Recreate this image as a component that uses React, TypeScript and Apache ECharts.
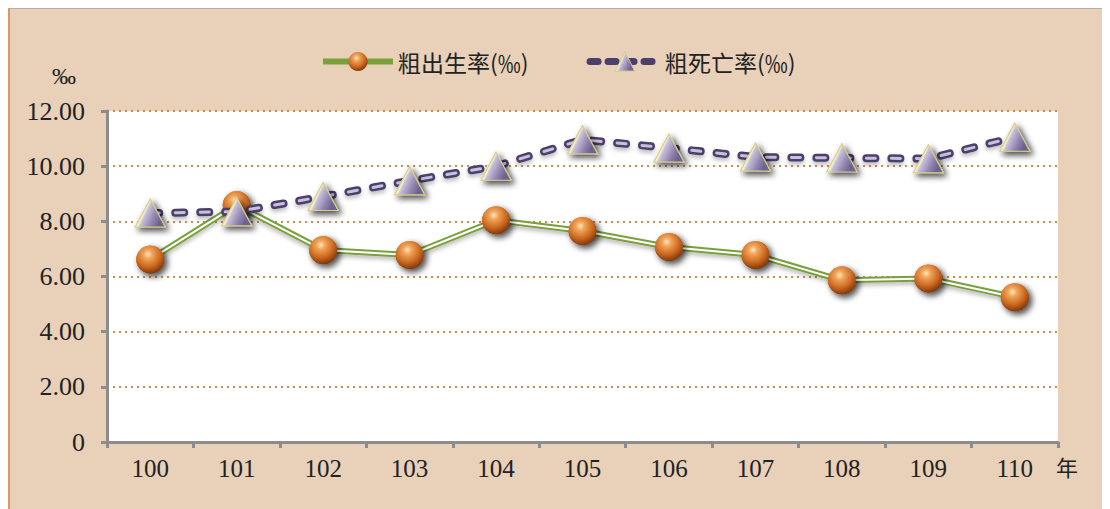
import React, { useEffect, useRef } from "react";
import * as echarts from "echarts";

const categories = ["100", "101", "102", "103", "104", "105", "106", "107", "108", "109", "110"];
const birthRate = [6.62, 8.59, 6.96, 6.78, 8.04, 7.65, 7.07, 6.78, 5.86, 5.93, 5.25];
const deathRate = [8.3, 8.35, 8.9, 9.47, 10.0, 10.96, 10.66, 10.33, 10.3, 10.27, 11.05];
const yTickLabels = ["0", "2.00", "4.00", "6.00", "8.00", "10.00", "12.00"];
const birthName = "粗出生率(‰)";
const deathName = "粗死亡率(‰)";

const BG = "#E8D0B9";
const CJK = "'Noto Sans CJK TC', 'Noto Sans CJK SC', sans-serif";
const SERIF = "'Liberation Serif', 'DejaVu Serif', serif";

const ballColor = {
  type: "radial",
  x: 0.42,
  y: 0.32,
  r: 0.7,
  colorStops: [
    { offset: 0, color: "#FFE6C0" },
    { offset: 0.22, color: "#F2A55A" },
    { offset: 0.65, color: "#C9671F" },
    { offset: 1, color: "#7E360A" },
  ],
};

const triColor = {
  type: "linear",
  x: 0,
  y: 0.2,
  x2: 0.9,
  y2: 0.6,
  colorStops: [
    { offset: 0, color: "#FFFDE8" },
    { offset: 0.4, color: "#F2EEC8" },
    { offset: 0.46, color: "#C8C0DC" },
    { offset: 0.75, color: "#9488B2" },
    { offset: 1, color: "#6E6290" },
  ],
};

export default function App() {
  const ref = useRef<HTMLDivElement>(null);
  useEffect(() => {
    if (!ref.current) return;
    const chart = echarts.init(ref.current, null, { renderer: "svg" });
    const shadow = {
      shadowColor: "rgba(0,0,0,0.45)",
      shadowBlur: 6,
      shadowOffsetX: 3,
      shadowOffsetY: 3,
    };
    const triStyle = { color: triColor, borderColor: "#D8CF8A", borderWidth: 1, ...shadow };
    chart.setOption({
      animation: false,
      backgroundColor: BG,
      legend: {
        data: [
          {
            name: birthName,
            itemStyle: { color: ballColor },
            lineStyle: { color: "#7AA03C", width: 6 },
          },
          {
            name: deathName,
            itemStyle: { color: triColor, borderColor: "#D8CF8A", borderWidth: 1 },
            lineStyle: { color: "#4B3F6B", width: 7, type: [8, 10], cap: "round" },
          },
        ],
        top: 36,
        left: 305,
        itemWidth: 70,
        itemHeight: 24,
        itemGap: 58,
        textStyle: { fontFamily: CJK, fontSize: 23, color: "#222" },
      },
      grid: { left: 97, right: 52, top: 102, bottom: 67 },
      xAxis: {
        type: "category",
        data: categories,
        boundaryGap: true,
        axisLine: { lineStyle: { color: "#8C8C8C", width: 3 } },
        axisTick: { show: true, length: 6, alignWithLabel: false, lineStyle: { color: "#8C8C8C", width: 3 } },
        axisLabel: { fontFamily: SERIF, fontSize: 25, color: "#222", margin: 14 },
        splitLine: { show: false },
      },
      yAxis: {
        type: "value",
        min: 0,
        max: 12,
        interval: 2,
        axisLine: { show: true, lineStyle: { color: "#8C8C8C", width: 3 } },
        axisTick: { show: true, length: 6, inside: false, lineStyle: { color: "#8C8C8C", width: 3 } },
        axisLabel: {
          fontFamily: SERIF,
          fontSize: 26,
          color: "#222",
          margin: 22,
          formatter: (_v: number, i: number) => yTickLabels[i],
        },
        splitLine: { lineStyle: { color: "#D08A4A", width: 2, type: [2, 4] } },
      },
      graphic: [
        { type: "rect", left: 97, top: 102, z: -1, shape: { width: 951, height: 331 }, style: { fill: "#FFFFFF" } },
        { type: "text", left: 42, top: 55, style: { text: "‰", font: `24px ${SERIF}`, fill: "#222" } },
        { type: "text", left: 1046, top: 446, style: { text: "年", font: `22px ${CJK}`, fill: "#222" } },
      ],
      series: [
        {
          name: birthName,
          type: "line",
          data: birthRate,
          z: 2,
          symbol: "circle",
          symbolSize: 28,
          itemStyle: { color: ballColor, ...shadow },
          lineStyle: { color: "#7AA03C", width: 6, shadowColor: "rgba(0,0,0,0.25)", shadowBlur: 4, shadowOffsetY: 3 },
        },
        {
          name: "birth-inner",
          type: "line",
          data: birthRate,
          z: 3,
          silent: true,
          symbol: "none",
          lineStyle: { color: "#FFFFFF", width: 2 },
        },
        {
          name: "birth-marks",
          type: "line",
          data: birthRate,
          z: 4,
          silent: true,
          symbol: "circle",
          symbolSize: 28,
          itemStyle: { color: ballColor, ...shadow },
          lineStyle: { width: 0, opacity: 0 },
        },
        {
          name: deathName,
          type: "line",
          data: deathRate,
          z: 5,
          symbol: "triangle",
          symbolSize: [30, 28],
          itemStyle: triStyle,
          lineStyle: {
            color: "#4B3F6B",
            width: 8,
            type: [9, 16],
            cap: "round",
            shadowColor: "rgba(0,0,0,0.25)",
            shadowBlur: 4,
            shadowOffsetY: 3,
          },
        },
        {
          name: "death-inner",
          type: "line",
          data: deathRate,
          z: 6,
          silent: true,
          symbol: "none",
          lineStyle: { color: "#C8C0DC", width: 3, type: [9, 16], cap: "round" },
        },
        {
          name: "death-marks",
          type: "line",
          data: deathRate,
          z: 7,
          silent: true,
          symbol: "triangle",
          symbolSize: [30, 28],
          itemStyle: triStyle,
          lineStyle: { width: 0, opacity: 0 },
        },
      ],
    });
    return () => chart.dispose();
  }, []);
  return (
    <div
      ref={ref}
      style={{
        width: 1102,
        height: 501,
        borderLeft: "2px solid #D89A60",
        borderTop: "1px solid #B8B0A8",
        boxSizing: "border-box",
      }}
    />
  );
}
